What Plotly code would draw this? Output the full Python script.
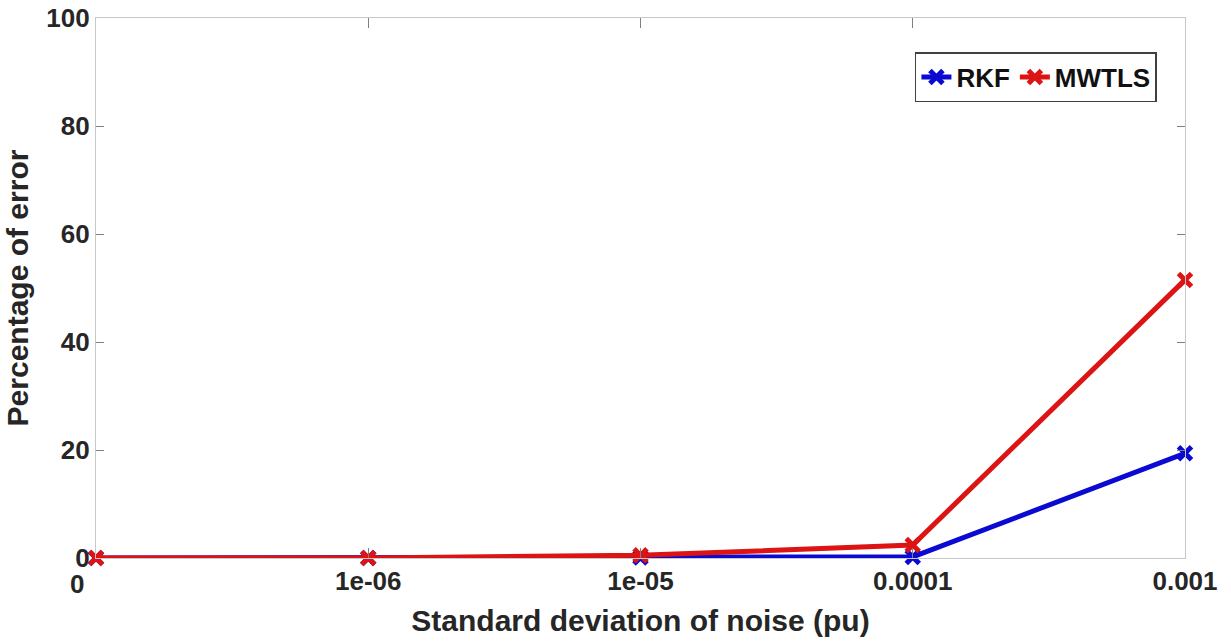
import plotly.graph_objects as go

noise_labels = ["0", "1e-06", "1e-05", "0.0001", "0.001"]
x_pos = [0, 1, 2, 3, 4]
rkf = [0.0, 0.0, 0.1, 0.2, 19.4]
mwtls = [0.0, 0.0, 0.5, 2.4, 51.5]
y_ticks = [0, 20, 40, 60, 80, 100]

font_family = "Liberation Sans, Arial, sans-serif"
txt_color = "#262626"
blue = "#0a0ad2"
red = "#dc1414"

fig = go.Figure()
fig.add_trace(go.Scatter(
    x=x_pos, y=rkf, mode="lines+markers", name="<b>RKF</b>",
    line=dict(color=blue, width=5),
    marker=dict(symbol="x-thin", size=13, line=dict(width=5, color=blue), color=blue),
    cliponaxis=False,
))
fig.add_trace(go.Scatter(
    x=x_pos, y=mwtls, mode="lines+markers", name="<b>MWTLS</b>",
    line=dict(color=red, width=5),
    marker=dict(symbol="x-thin", size=13, line=dict(width=5, color=red), color=red),
    cliponaxis=False,
))

fig.add_annotation(
    x=0, y=0, xref="x", yref="paper", text="<b>" + noise_labels[0] + "</b>",
    showarrow=False, xanchor="center", yanchor="top", xshift=-19, yshift=-9,
    font=dict(family=font_family, size=26, color=txt_color),
)

fig.update_layout(
    width=1231, height=642,
    margin=dict(l=96, r=46, t=18, b=84, autoexpand=False),
    paper_bgcolor="white", plot_bgcolor="white",
    font=dict(family=font_family, size=26, color=txt_color),
    showlegend=True,
    legend=dict(
        orientation="h", x=0.752, y=0.937, xanchor="left", yanchor="top",
        bordercolor="#404040", borderwidth=1.5, bgcolor="white",
        font=dict(family=font_family, size=26, color="#111111"),
        itemwidth=30, tracegroupgap=0,
    ),
    xaxis=dict(
        range=[0, 4], tickmode="array", tickvals=x_pos,
        ticktext=[""] + ["<b>%s</b>" % t for t in noise_labels[1:]],
        showgrid=False, zeroline=False, automargin=False,
        showline=True, linecolor="#c8c8c8", linewidth=1.2,
        ticks="inside", ticklen=10, tickcolor="#808080", tickwidth=1.2,
        mirror="ticks",
        title=dict(text="<b>Standard deviation of noise (pu)</b>", standoff=14,
                   font=dict(family=font_family, size=30, color=txt_color)),
        tickfont=dict(family=font_family, size=26, color=txt_color),
    ),
    yaxis=dict(
        range=[0, 100], tickmode="array", tickvals=y_ticks,
        ticktext=["<b>%d</b>" % v for v in y_ticks],
        showgrid=False, zeroline=False, automargin=False,
        showline=True, linecolor="#c8c8c8", linewidth=1.2,
        ticks="inside", ticklen=8, tickcolor="#808080", tickwidth=1.2,
        mirror="ticks",
        title=dict(text="<b>Percentage of error</b>", standoff=8,
                   font=dict(family=font_family, size=30, color=txt_color)),
        tickfont=dict(family=font_family, size=26, color=txt_color),
    ),
)

fig.write_html("out.html")
